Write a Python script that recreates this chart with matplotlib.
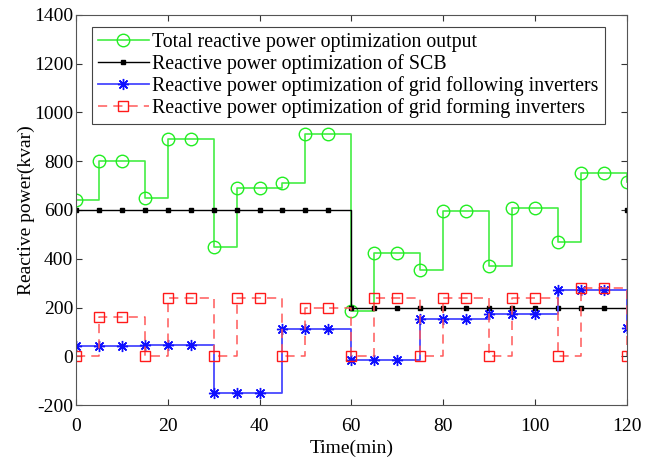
import matplotlib
matplotlib.use("Agg")
import matplotlib.pyplot as plt

plt.rcParams['font.family'] = ['Liberation Serif', 'DejaVu Serif']
plt.rcParams['axes.unicode_minus'] = False

time_min = [0, 5, 10, 15, 20, 25, 30, 35, 40, 45, 50, 55, 60,
            65, 70, 75, 80, 85, 90, 95, 100, 105, 110, 115, 120]

total_q = [640, 800, 800, 650, 890, 890, 450, 690, 690, 710, 910, 910, 185,
           425, 425, 355, 595, 595, 370, 610, 610, 470, 750, 750, 715]

scb_q = [600, 600, 600, 600, 600, 600, 600, 600, 600, 600, 600, 600, 200,
         200, 200, 200, 200, 200, 200, 200, 200, 200, 200, 200, 600]

following_q = [42, 42, 42, 48, 48, 48, -150, -150, -150, 113, 113, 113, -15,
               -15, -15, 155, 155, 155, 172, 172, 172, 272, 272, 272, 115]

forming_q = [0, 160, 160, 0, 240, 240, 0, 240, 240, 0, 200, 200, 0,
             240, 240, 0, 240, 240, 0, 240, 240, 0, 280, 280, 0]

labels = ["Total reactive power optimization output",
          "Reactive power optimization of SCB",
          "Reactive power optimization of grid following inverters",
          "Reactive power optimization of grid forming inverters"]

fig = plt.figure(figsize=(6.66, 4.63), dpi=100)
ax = fig.add_axes([0.114, 0.125, 0.827, 0.843])

l1, = ax.plot(time_min, total_q, drawstyle='steps-post', color='#44ee44', lw=1.2,
              marker='o', ms=9, mfc='none', mec='#22ee22', mew=1.0)
l2, = ax.plot(time_min, scb_q, drawstyle='steps-post', color='black', lw=1.0,
              marker='s', ms=2.2, mfc='black', mec='black')
l3, = ax.plot(time_min, following_q, drawstyle='steps-post', color='#4848ff', lw=1.3,
              marker=(8, 2, 0), ms=8, mfc='#0000ff', mec='#1010ff', mew=1.0)
l4, = ax.plot(time_min, forming_q, drawstyle='steps-post', color='#ff5a5a', lw=1.1,
              ls=(0, (6, 4)), marker='s', ms=7, mfc='none', mec='#ff1a1a', mew=1.0)

ax.set_xlim(0, 120)
ax.set_ylim(-200, 1400)
ax.set_xticks(range(0, 121, 20))
ax.set_yticks(range(-200, 1401, 200))
ax.tick_params(direction='in', top=True, right=True, labelsize=14,
               length=4, color='#333333')
ax.tick_params(axis='x', pad=9)
ax.tick_params(axis='y', pad=2)
for s in ax.spines.values():
    s.set_color('#555555')
    s.set_linewidth(0.8)

ax.set_xlabel("Time(min)", fontsize=14, labelpad=4)
ax.set_ylabel("Reactive power(kvar)", fontsize=14, labelpad=-1)

leg = ax.legend([l1, l2, l3, l4], labels, loc='upper left',
                bbox_to_anchor=(0.029, 0.969), numpoints=1,
                fontsize=14.3, handlelength=2.55, handletextpad=0.2,
                labelspacing=0.1, borderpad=0.3, borderaxespad=0,
                frameon=True, fancybox=False, edgecolor='#444444',
                framealpha=1)
leg.get_frame().set_linewidth(0.8)

fig.savefig("out.png", dpi=100)
